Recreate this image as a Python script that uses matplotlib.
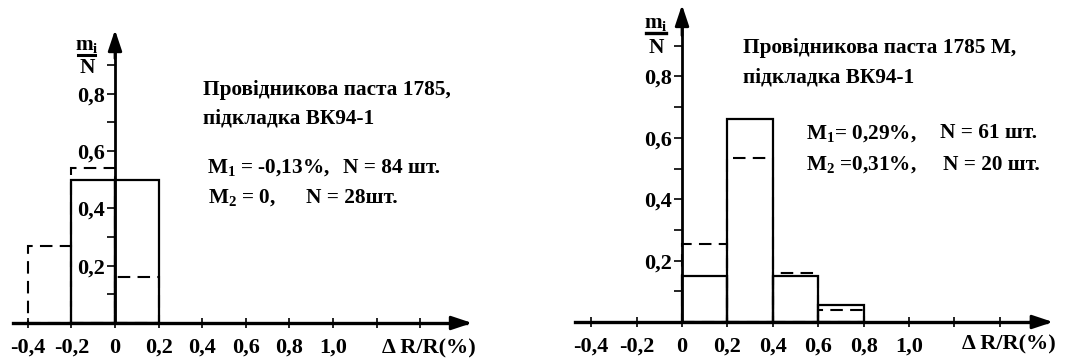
import matplotlib
matplotlib.use("Agg")
import matplotlib.pyplot as plt

plt.rcParams['font.family'] = ['Liberation Serif', 'DejaVu Serif']
plt.rcParams['font.weight'] = 'bold'
plt.rcParams['mathtext.fontset'] = 'custom'
plt.rcParams['mathtext.rm'] = 'Liberation Serif:bold'
plt.rcParams['mathtext.it'] = 'Liberation Serif:bold'
plt.rcParams['mathtext.bf'] = 'Liberation Serif:bold'

# histogram data: left edges of 0.2-wide bins, relative frequency m_i/N
leftBins = [-0.4, -0.2, 0.0]
leftSolid = [0.0, 0.50, 0.50]
leftDashed = [0.27, 0.54, 0.16]

rightBins = [0.0, 0.2, 0.4, 0.6]
rightSolid = [0.15, 0.66, 0.15, 0.055]
rightDashed = [0.255, 0.535, 0.16, 0.04]

xTicks = [-0.4, -0.2, 0.0, 0.2, 0.4, 0.6, 0.8, 1.0, 1.2, 1.4]
xTickLabels = ['-0,4', '-0,2', '0', '0,2', '0,4', '0,6', '0,8', '1,0', '', '']
yTicks = [0.2, 0.4, 0.6, 0.8]
yTickLabels = ['0,2', '0,4', '0,6', '0,8']
yMinor = [0.1, 0.3, 0.5, 0.7, 0.9]

leftTitle = ['Провідникова паста 1785,', 'підкладка ВК94-1']
leftStats = [r'M$_{1}$ = -0,13%,', r'M$_{2}$ = 0,']
leftCounts = ['N = 84 шт.', 'N = 28шт.']
rightTitle = ['Провідникова паста 1785 М,', 'підкладка ВК94-1']
rightStats = [r'M$_{1}$= 0,29%,', r'M$_{2}$ =0,31%,']
rightCounts = ['N = 61 шт.', 'N = 20 шт.']

W, H = 1076, 363
fig = plt.figure(figsize=(W / 100, H / 100), dpi=100)

FS = 15.3
TFS = 16


def makeAxes(x0px, x1px, originX, originY, sx, sy):
    ax = fig.add_axes([x0px / W, 0, (x1px - x0px) / W, 1])
    ax.set_xlim((x0px - originX) / sx, (x1px - originX) / sx)
    ax.set_ylim(-(H - originY) / sy, originY / sy)
    return ax


def drawPanel(ax, bins, solid, dashed, xStart, xTip, yTip):
    for spine in ['top', 'right']:
        ax.spines[spine].set_visible(False)
    ax.spines['left'].set_position(('data', 0))
    ax.spines['bottom'].set_position(('data', 0))
    ax.spines['left'].set_bounds(0, yTip - 0.03)
    ax.spines['bottom'].set_bounds(xStart, xTip - 0.03)
    ax.spines['left'].set_linewidth(2.0)
    ax.spines['bottom'].set_linewidth(2.4)

    ax.annotate('', xy=(xTip, 0), xytext=(xTip - 0.1, 0),
                arrowprops=dict(arrowstyle='-|>,head_length=0.9,head_width=0.3',
                                color='black', lw=2, mutation_scale=14,
                                shrinkA=0, shrinkB=0))
    ax.annotate('', xy=(0, yTip), xytext=(0, yTip - 0.1),
                arrowprops=dict(arrowstyle='-|>,head_length=0.9,head_width=0.3',
                                color='black', lw=2, mutation_scale=14,
                                shrinkA=0, shrinkB=0))

    ax.set_xticks(xTicks)
    ax.set_xticklabels(xTickLabels, fontsize=TFS, fontweight='bold')
    ax.tick_params(axis='x', direction='inout', length=7, width=1.2, pad=7)
    ax.set_yticks(yTicks)
    ax.set_yticks(yMinor, minor=True)
    ax.set_yticklabels(yTickLabels, fontsize=TFS, fontweight='bold')
    ax.tick_params(axis='y', which='both', direction='out', length=6,
                   width=1.2, pad=1)

    for b, v in zip(bins, dashed):
        if v > 0:
            ax.bar(b, v, width=0.2, align='edge', fill=False, edgecolor='black',
                   linewidth=1.5, linestyle=(0, (6, 3.5)), zorder=2)
    for b, v in zip(bins, solid):
        if v > 0:
            ax.bar(b, v, width=0.2, align='edge', fill=False, edgecolor='black',
                   linewidth=1.6, zorder=3)


# left panel
axL = makeAxes(0, 530, 115, 323, 218, 286.5)
drawPanel(axL, leftBins, leftSolid, leftDashed, -0.468, 1.638, 1.023)
axL.text(0.404, 0.796, leftTitle[0], fontsize=FS, va='baseline')
axL.text(0.404, 0.698, leftTitle[1], fontsize=FS, va='baseline')
axL.text(0.422, 0.524, leftStats[0], fontsize=FS, va='baseline')
axL.text(0.427, 0.419, leftStats[1], fontsize=FS, va='baseline')
axL.text(1.046, 0.524, leftCounts[0], fontsize=FS, va='baseline')
axL.text(0.876, 0.419, leftCounts[1], fontsize=FS, va='baseline')
axL.text(-0.128, 0.953, r'm$_{i}$', fontsize=FS, ha='center', va='baseline')
axL.plot([-0.17, -0.09], [0.935, 0.935], color='black', lw=2.2,
         clip_on=False)
axL.text(-0.128, 0.873, 'N', fontsize=FS, ha='center', va='baseline')
axL.text(1.225, -0.105, 'Δ R/R(%)', fontsize=TFS, va='baseline')

# right panel
axR = makeAxes(540, 1076, 682, 322, 227, 307)
drawPanel(axR, rightBins, rightSolid, rightDashed, -0.47, 1.634, 1.033)
axR.text(0.269, 0.876, rightTitle[0], fontsize=FS, va='baseline')
axR.text(0.269, 0.779, rightTitle[1], fontsize=FS, va='baseline')
axR.text(0.546, 0.599, rightStats[0], fontsize=FS, va='baseline')
axR.text(0.546, 0.495, rightStats[1], fontsize=FS, va='baseline')
axR.text(1.137, 0.599, rightCounts[0], fontsize=FS, va='baseline')
axR.text(1.150, 0.495, rightCounts[1], fontsize=FS, va='baseline')
axR.text(-0.115, 0.958, r'm$_{i}$', fontsize=FS, ha='center', va='baseline')
axR.plot([-0.159, -0.07], [0.941, 0.941], color='black', lw=2.4,
         clip_on=False)
axR.text(-0.115, 0.876, 'N', fontsize=FS, ha='center', va='baseline')
axR.text(1.233, -0.091, 'Δ R/R(%)', fontsize=TFS, va='baseline')

fig.savefig('out.png', dpi=100)
